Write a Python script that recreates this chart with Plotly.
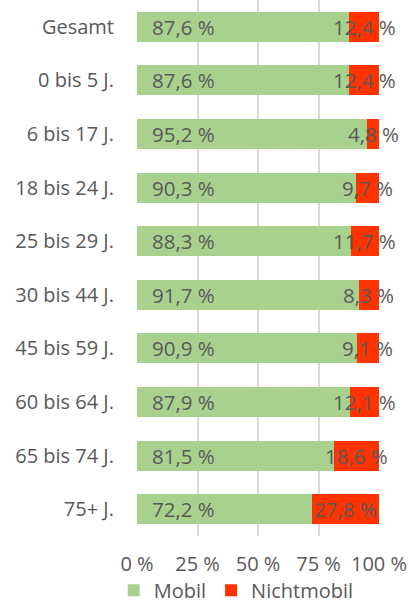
import plotly.graph_objects as go

categories = ["Gesamt", "0 bis 5 J.", "6 bis 17 J.", "18 bis 24 J.", "25 bis 29 J.",
              "30 bis 44 J.", "45 bis 59 J.", "60 bis 64 J.", "65 bis 74 J.", "75+ J."]
mobil = [87.6, 87.6, 95.2, 90.3, 88.3, 91.7, 90.9, 87.9, 81.5, 72.2]
nichtmobil = [12.4, 12.4, 4.8, 9.7, 11.7, 8.3, 9.1, 12.1, 18.6, 27.8]
tick_vals = [0, 25, 50, 75, 100]
tick_text = ["0 %", "25 %", "50 %", "75 %", "100 %"]

GREEN = "#a9d18e"
RED = "#ff3300"
TXT = "#595959"
FONT = "Open Sans"

def fmt(v):
    return f"{v:.1f}".replace(".", ",") + " %"

fig = go.Figure()
fig.add_trace(go.Bar(y=categories, x=mobil, orientation="h", name="Mobil",
                     marker=dict(color=GREEN, line=dict(width=0))))
fig.add_trace(go.Bar(y=categories, x=nichtmobil, orientation="h", name="Nichtmobil",
                     marker=dict(color=RED, line=dict(width=0))))

annotations = []
for c, m, n in zip(categories, mobil, nichtmobil):
    annotations.append(dict(x=0, y=c, xref="x", yref="y", text=fmt(m), showarrow=False,
                            xanchor="left", xshift=13, font=dict(family=FONT, size=20.5, color=TXT)))
    annotations.append(dict(x=m + n / 2, y=c, xref="x", yref="y", text=fmt(n), showarrow=False,
                            xanchor="center", font=dict(family=FONT, size=20.5, color=TXT)))

fig.update_layout(
    width=409, height=603,
    margin=dict(l=137, r=30, t=0, b=67, autoexpand=False),
    barmode="stack", bargap=0.44,
    plot_bgcolor="white", paper_bgcolor="white",
    font=dict(family=FONT, size=20, color=TXT),
    annotations=annotations,
    legend=dict(orientation="h", x=0.41, xanchor="center", y=-0.101, yanchor="middle",
                font=dict(family=FONT, size=20, color=TXT), itemwidth=30,
                traceorder="normal"),
    xaxis=dict(range=[0, 100], tickvals=tick_vals, ticktext=tick_text,
               showgrid=True, gridcolor="#d9d9d9", gridwidth=2, zeroline=False,
               showline=False, ticks="", ticklabelstandoff=14, fixedrange=True,
               automargin=False),
    yaxis=dict(autorange="reversed", showgrid=False, ticks="", showline=False,
               ticklabelstandoff=22, fixedrange=True, automargin=False),
)

fig.write_html("out.html", config={"displayModeBar": False},
               post_script="document.body.style.margin='0';")
